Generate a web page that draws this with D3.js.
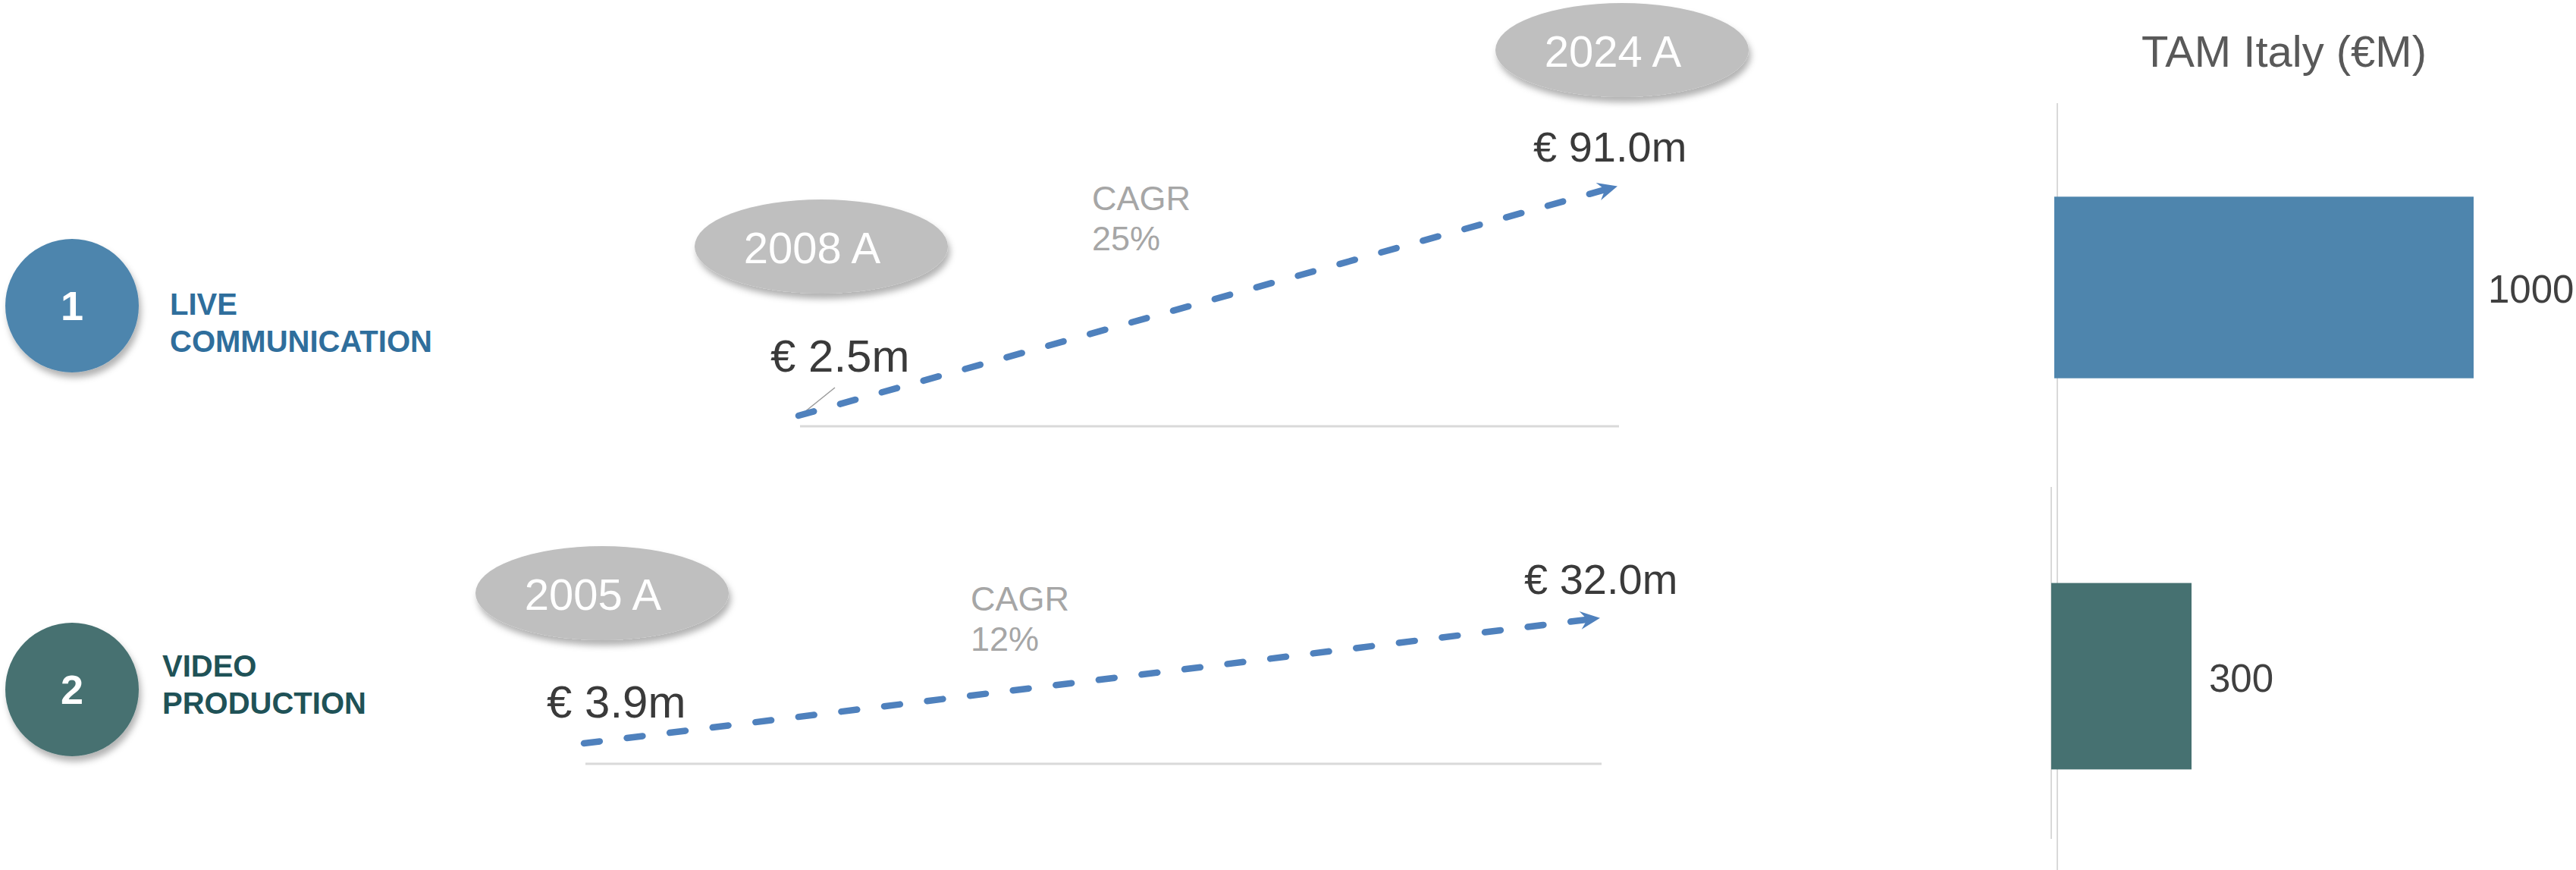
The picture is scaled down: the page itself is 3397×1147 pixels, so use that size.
<!DOCTYPE html>
<html>
<head>
<meta charset="utf-8">
<script src="https://cdn.jsdelivr.net/npm/d3@7"></script>
<style>
  body { margin: 0; background: #fff; }
  svg { display: block; font-family: "Liberation Sans", Arial, sans-serif; }
</style>
</head>
<body>
<svg id="chart" width="3397" height="1147"></svg>
<script>
// data
const segmentNums = ["1", "2"];
const segmentLines = [["LIVE", "COMMUNICATION"], ["VIDEO", "PRODUCTION"]];
const startYears = [2008, 2005];
const endYears = [2024, 2024];
const startValues = [2.5, 3.9];
const endValues = [91.0, 32.0];
const cagrs = [25, 12];
const tamValues = [1000, 300];
const tamTitle = "TAM Italy (€M)";

// layout
const rowColors = ["#4e85ad", "#467171"];
const labelColors = ["#2f6e9c", "#1f5257"];
const rows = [
  { cy: 403, xRange: [1053, 2131], yRange: [548, 246], base: 562,
    startLbl: [-37, -58], endLbl: [-109, -33], cagr: [1440, 277], yearEll: [1071, 325],
    bandRange: [136, 622], tamRange: [2709, 3262], axis: [2713, 136, 1147] },
  { cy: 909, xRange: [770, 2108], yRange: [980, 815], base: 1007,
    startLbl: [-49, -34], endLbl: [-98, -32], cagr: [1280, 805], yearEll: [782, 782],
    bandRange: [642, 1141], tamRange: [2705, 2890], axis: [2705, 642, 1106] }
];
const endEllipse = [2127, 66];

const fmtMoney = d => `€ ${d3.format(".1f")(d)}m`;
const svg = d3.select("#chart");

const defs = svg.append("defs");
const shadow = defs.append("filter").attr("id", "shadow")
  .attr("x", "-20%").attr("y", "-20%").attr("width", "150%").attr("height", "160%");
shadow.append("feDropShadow").attr("dx", 3).attr("dy", 7)
  .attr("stdDeviation", 4).attr("flood-color", "#000").attr("flood-opacity", 0.3);

defs.append("marker").attr("id", "arrow")
  .attr("markerUnits", "userSpaceOnUse")
  .attr("viewBox", "-28 -15 32 30")
  .attr("refX", 0).attr("refY", 0)
  .attr("markerWidth", 32).attr("markerHeight", 30)
  .attr("orient", "auto")
  .append("path")
  .attr("d", "M2,0 L-24,-12 L-15,0 L-24,12 Z")
  .attr("fill", "#4f81bd");

// label center x, ellipse drawn slightly right of the label as in the source
const yearEllipse = (cx, cy, label) => {
  const g = svg.append("g");
  g.append("ellipse").attr("cx", cx + 12).attr("cy", cy).attr("rx", 167).attr("ry", 62)
    .attr("fill", "#bfbfbf").attr("filter", "url(#shadow)");
  g.append("text").attr("x", cx).attr("y", cy + 22).attr("text-anchor", "middle")
    .attr("font-size", 58).attr("fill", "#fff").text(label);
};

rows.forEach((L, i) => {
  const x = d3.scaleLinear().domain([startYears[i], endYears[i]]).range(L.xRange);
  const y = d3.scaleLog().domain([startValues[i], endValues[i]]).range(L.yRange);
  const pts = [[startYears[i], startValues[i]], [endYears[i], endValues[i]]];

  // segment badge
  svg.append("circle").attr("cx", 95).attr("cy", L.cy).attr("r", 88)
    .attr("fill", rowColors[i]).attr("filter", "url(#shadow)");
  svg.append("text").attr("x", 95).attr("y", L.cy + 19).attr("text-anchor", "middle")
    .attr("font-size", 54).attr("font-weight", "bold").attr("fill", "#fff").text(segmentNums[i]);
  const lx = i === 0 ? 224 : 214;
  svg.append("text").attr("x", lx).attr("y", i === 0 ? L.cy + 12 : L.cy - 17)
    .attr("font-size", 40).attr("font-weight", "bold").attr("fill", labelColors[i])
    .selectAll("tspan").data(segmentLines[i]).join("tspan")
    .attr("x", lx).attr("dy", (d, k) => k ? 49 : 0).text(d => d);

  // baseline
  svg.append("line").attr("x1", L.xRange[0] + 2).attr("x2", L.xRange[1] + 4)
    .attr("y1", L.base).attr("y2", L.base).attr("stroke", "#d9d9d9").attr("stroke-width", 3);

  // leader for the first start label
  if (i === 0) {
    svg.append("line").attr("x1", x(startYears[i]) + 48).attr("y1", y(startValues[i]) - 37)
      .attr("x2", x(startYears[i]) + 2).attr("y2", y(startValues[i]))
      .attr("stroke", "#9a9a9a").attr("stroke-width", 1.5);
  }

  // growth arrow
  svg.append("path").datum(pts)
    .attr("d", d3.line().x(d => x(d[0])).y(d => y(d[1])))
    .attr("fill", "none").attr("stroke", "#4f81bd").attr("stroke-width", 8.5)
    .attr("stroke-linecap", "round").attr("stroke-dasharray", "21,36")
    .attr("marker-end", "url(#arrow)");

  // values
  svg.append("text").attr("x", x(startYears[i]) + L.startLbl[0]).attr("y", y(startValues[i]) + L.startLbl[1])
    .attr("font-size", 60).attr("fill", "#3a3a3a").text(fmtMoney(startValues[i]));
  svg.append("text").attr("x", x(endYears[i]) + L.endLbl[0]).attr("y", y(endValues[i]) + L.endLbl[1])
    .attr("font-size", 56).attr("fill", "#3a3a3a").text(fmtMoney(endValues[i]));

  // CAGR
  svg.append("text").attr("x", L.cagr[0]).attr("y", L.cagr[1])
    .attr("font-size", 45).attr("fill", "#a6a6a6")
    .selectAll("tspan").data(["CAGR", `${cagrs[i]}%`]).join("tspan")
    .attr("x", L.cagr[0]).attr("dy", (d, k) => k ? 53 : 0).text(d => d);

  yearEllipse(L.yearEll[0], L.yearEll[1], `${startYears[i]} A`);

  // TAM bar panel
  const tx = d3.scaleLinear().domain([0, tamValues[i]]).range(L.tamRange);
  const ty = d3.scaleBand().domain([segmentNums[i]]).range(L.bandRange).padding(0.34);
  svg.append("line").attr("x1", L.axis[0]).attr("x2", L.axis[0])
    .attr("y1", L.axis[1]).attr("y2", L.axis[2]).attr("stroke", "#d9d9d9").attr("stroke-width", 2);
  svg.append("rect").attr("x", tx(0)).attr("y", ty(segmentNums[i]))
    .attr("width", tx(tamValues[i]) - tx(0)).attr("height", ty.bandwidth())
    .attr("fill", rowColors[i]);
  svg.append("text").attr("x", tx(tamValues[i]) + (i === 0 ? 19 : 23))
    .attr("y", ty(segmentNums[i]) + ty.bandwidth() / 2 + 20)
    .attr("font-size", 51).attr("fill", "#404040").text(tamValues[i]);
});

yearEllipse(endEllipse[0], endEllipse[1], `${endYears[0]} A`);

svg.append("text").attr("x", 3012).attr("y", 88).attr("text-anchor", "middle")
  .attr("font-size", 58).attr("fill", "#595959").text(tamTitle);
</script>
</body>
</html>
